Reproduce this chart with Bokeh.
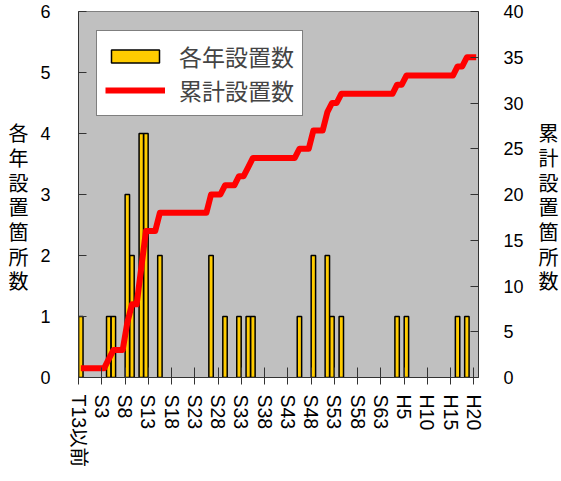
import numpy as np
from bokeh.plotting import figure
from bokeh.models import (Range1d, LinearAxis, FixedTicker, SingleIntervalTicker,
                          Legend, LegendItem, ColumnDataSource)
from bokeh.embed import file_html
from bokeh.resources import INLINE

# ---- data ----
tick_labels = ["T13以前", "S3", "S8", "S13", "S18", "S23", "S28", "S33", "S38",
               "S43", "S48", "S53", "S58", "S63", "H5", "H10", "H15", "H20"]
n_categories = 86          # T13以前 ... H20 (one category per year)
tick_step = 5              # one label every 5 categories
bar_cat = [0, 6, 7, 10, 11, 13, 14, 17, 28, 31, 34, 36, 37, 47, 50, 53, 54, 56, 68, 70, 81, 83]
bar_count = [1, 1, 1, 3, 2, 4, 4, 2, 2, 1, 1, 1, 1, 1, 2, 2, 1, 1, 1, 1, 1, 1]
left_title = "各年設置箇所数"
right_title = "累計設置箇所数"

yearly = np.zeros(n_categories)
yearly[bar_cat] = bar_count
cumulative = np.cumsum(yearly)

cjk = "Noto Sans CJK JP"
num_font = "Liberation Sans, Noto Sans CJK JP"

p = figure(width=561, height=481, output_backend="svg", toolbar_location=None,
           x_range=Range1d(0, n_categories), y_range=Range1d(0, 6),
           min_border_left=78, min_border_right=79, min_border_top=11, min_border_bottom=104)
p.extra_y_ranges = {"cum": Range1d(0, 40)}
p.background_fill_color = "#C0C0C0"
p.border_fill_color = "white"
p.grid.visible = False
p.outline_line_color = "#808080"

bar_src = ColumnDataSource(dict(x=[c + 0.5 for c in bar_cat], top=bar_count))
bars = p.vbar(x="x", top="top", width=0.95, bottom=0, source=bar_src,
              fill_color="#FFCC00", line_color="black", line_width=1.5)

line_src = ColumnDataSource(dict(x=np.arange(n_categories) + 0.5, y=cumulative))
line = p.line(x="x", y="y", source=line_src, y_range_name="cum",
              line_color="#FF0000", line_width=6, line_join="round")

def style_axis(ax, standoff, size="18px"):
    ax.minor_tick_line_color = None
    ax.major_label_standoff = standoff
    ax.major_label_text_font = num_font
    ax.major_label_text_font_size = size
    ax.major_label_text_color = "black"
    ax.axis_line_color = "#333333"
    ax.major_tick_line_color = "#333333"
    ax.axis_label_text_font = cjk
    ax.axis_label_text_font_size = "20px"
    ax.axis_label_text_font_style = "normal"
    ax.axis_label_text_color = "black"

# left axis
ya = p.yaxis[0]
ya.ticker = SingleIntervalTicker(interval=1)
ya.major_tick_in = 8
ya.major_tick_out = 0
style_axis(ya, 24)
ya.axis_label = "\n" + "\n".join(left_title)
ya.axis_label_orientation = "horizontal"
ya.axis_label_standoff = 9
ya.axis_label_text_line_height = 0.85

# right axis
ra = LinearAxis(y_range_name="cum", ticker=SingleIntervalTicker(interval=5))
ra.major_tick_in = 8
ra.major_tick_out = 0
style_axis(ra, 21)
ra.axis_label = "\n" + "\n".join(right_title)
ra.axis_label_orientation = "horizontal"
ra.axis_label_standoff = 12
ra.axis_label_text_line_height = 0.85
p.add_layout(ra, "right")

# bottom axis
xa = p.xaxis[0]
tick_pos = [i * tick_step for i in range(len(tick_labels))]
xa.ticker = FixedTicker(ticks=tick_pos)
xa.major_label_overrides = {t: lbl for t, lbl in zip(tick_pos, tick_labels)}
xa.major_label_orientation = "vertical"
xa.major_tick_in = 10
xa.major_tick_out = 7
style_axis(xa, 10, "19.5px")

legend = Legend(items=[LegendItem(label="各年設置数", renderers=[bars]),
                       LegendItem(label="累計設置数", renderers=[line])],
                location=(18, 261))
legend.border_line_color = "black"
legend.border_line_width = 1.5
legend.background_fill_color = "white"
legend.background_fill_alpha = 1.0
legend.label_text_font = cjk
legend.label_text_font_size = "23px"
legend.glyph_width = 60
legend.glyph_height = 16
legend.label_standoff = 14
legend.padding = 8
legend.spacing = 0
legend.margin = 0
p.add_layout(legend)

open("out.html", "w").write(file_html(p, INLINE))
